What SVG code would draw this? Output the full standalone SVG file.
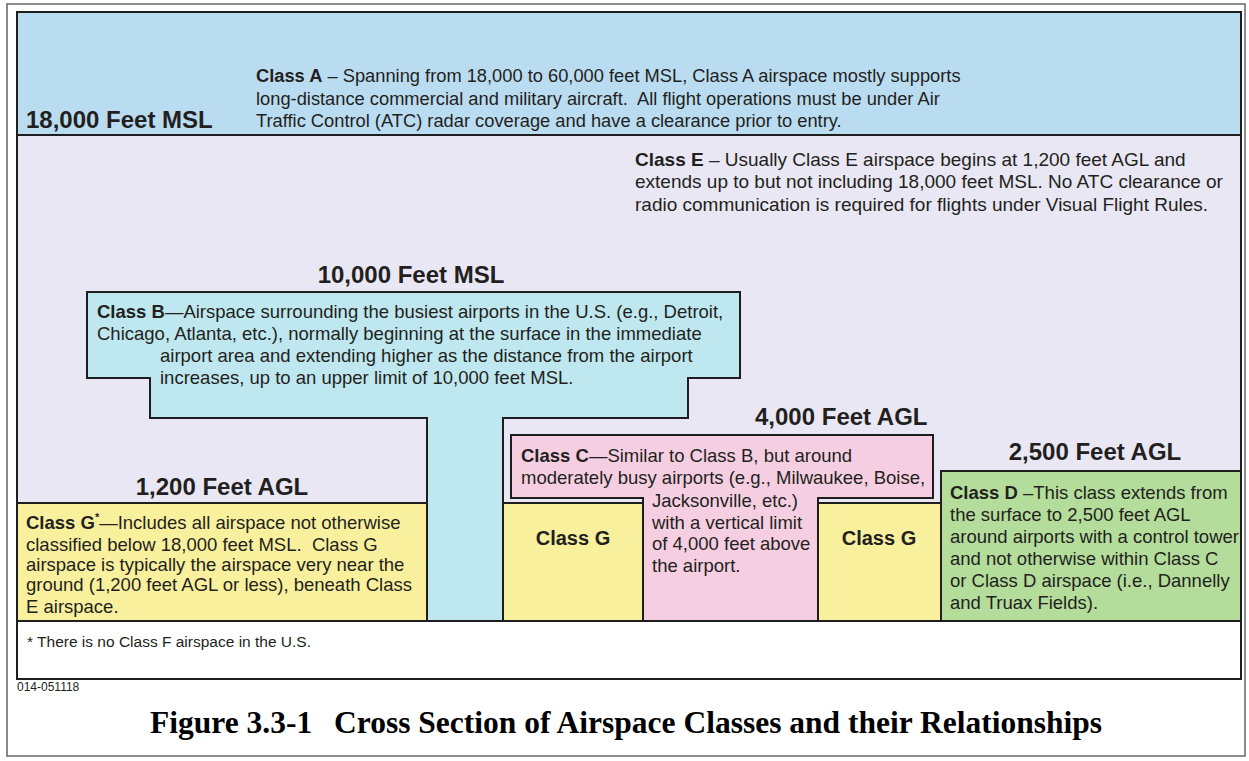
<svg xmlns="http://www.w3.org/2000/svg" width="1249" height="761" viewBox="0 0 1249 761">
<style>
.t{font-family:"Liberation Sans",Arial,sans-serif;font-size:18.5px;fill:#231f20}
.b{font-weight:bold}
.h{font-family:"Liberation Sans",Arial,sans-serif;font-size:24px;font-weight:bold;fill:#231f20}
.g{font-family:"Liberation Sans",Arial,sans-serif;font-size:20px;font-weight:bold;fill:#231f20;text-anchor:middle}
.ln{stroke:#1e1e1e;stroke-width:2}
.cap{font-family:"Liberation Serif","Times New Roman",serif;font-size:31.5px;font-weight:bold;fill:#000}
</style>
<rect x="7" y="4" width="1238" height="752" fill="#ffffff" stroke="#666" stroke-width="1.5"/>
<g id="classA">
<rect x="17" y="12" width="1224" height="123" fill="#badcf1"/>
<text class="h" x="26" y="128">18,000 Feet MSL</text>
<text class="t" style="font-size:18.3px"><tspan x="256" y="82"><tspan class="b">Class A</tspan> – Spanning from 18,000 to 60,000 feet MSL, Class A airspace mostly supports</tspan><tspan x="256" y="104.5">long-distance commercial and military aircraft.&#160; All flight operations must be under Air</tspan><tspan x="256" y="127">Traffic Control (ATC) radar coverage and have a clearance prior to entry.</tspan></text>
</g>
<g id="classE">
<rect x="17" y="135" width="1224" height="486" fill="#e8e7f3" class="ln"/>
<text class="t" style="font-size:19px"><tspan x="635" y="166"><tspan class="b">Class E</tspan> – Usually Class E airspace begins at 1,200 feet AGL and</tspan><tspan x="635" y="188">extends up to but not including 18,000 feet MSL. No ATC clearance or</tspan><tspan x="635" y="211">radio communication is required for flights under Visual Flight Rules.</tspan></text>
</g>
<g id="classB">
<polygon points="87,292 740,292 740,378 688,378 688,418 503,418 503,621 427,621 427,418 150,418 150,378 87,378" fill="#bfe7ef" class="ln"/>
<text class="h" x="411" y="283" text-anchor="middle">10,000 Feet MSL</text>
<text class="t"><tspan x="97" y="318"><tspan class="b">Class B</tspan>—Airspace surrounding the busiest airports in the U.S. (e.g., Detroit,</tspan><tspan x="97" y="340">Chicago, Atlanta, etc.), normally beginning at the surface in the immediate</tspan><tspan x="160" y="362">airport area and extending higher as the distance from the airport</tspan><tspan x="160" y="384">increases, up to an upper limit of 10,000 feet MSL.</tspan></text>
</g>
<g id="classG-left">
<rect x="17" y="503" width="410" height="118" fill="#f9f09d" class="ln"/>
<text class="h" x="222" y="495" text-anchor="middle">1,200 Feet AGL</text>
<text class="t"><tspan x="26" y="529"><tspan class="b">Class G</tspan><tspan class="b" dy="-8" style="font-size:11px">*</tspan><tspan dy="8">—Includes all airspace not otherwise</tspan></tspan><tspan x="26" y="551">classified below 18,000 feet MSL.&#160; Class G</tspan><tspan x="26" y="571">airspace is typically the airspace very near the</tspan><tspan x="26" y="591">ground (1,200 feet AGL or less), beneath Class</tspan><tspan x="26" y="613">E airspace.</tspan></text>
</g>
<g id="classC">
<polygon points="511,435 933,435 933,498 818,498 818,621 643,621 643,498 511,498" fill="#f5cfe1" class="ln"/>
<text class="h" x="755" y="425">4,000 Feet AGL</text>
<text class="t"><tspan x="521" y="462"><tspan class="b">Class C</tspan>—Similar to Class B, but around</tspan><tspan x="521" y="484">moderately busy airports (e.g., Milwaukee, Boise,</tspan><tspan x="652" y="507">Jacksonville, etc.)</tspan><tspan x="652" y="529">with a vertical limit</tspan><tspan x="652" y="550">of 4,000 feet above</tspan><tspan x="652" y="572">the airport.</tspan></text>
</g>
<g id="classG-mid-left">
<rect x="503" y="503" width="140" height="118" fill="#f9f09d" class="ln"/>
<text class="g" x="573" y="545">Class G</text>
</g>
<g id="classG-mid-right">
<rect x="818" y="503" width="123" height="118" fill="#f9f09d" class="ln"/>
<text class="g" x="879" y="545">Class G</text>
</g>
<g id="classD">
<rect x="941" y="471" width="300" height="150" fill="#b4dc9b" class="ln"/>
<text class="h" x="1095" y="460" text-anchor="middle">2,500 Feet AGL</text>
<text class="t"><tspan x="950" y="499"><tspan class="b">Class D</tspan> –This class extends from</tspan><tspan x="950" y="521">the surface to 2,500 feet AGL</tspan><tspan x="950" y="543">around airports with a control tower</tspan><tspan x="950" y="565">and not otherwise within Class C</tspan><tspan x="950" y="587">or Class D airspace (i.e., Dannelly</tspan><tspan x="950" y="609">and Truax Fields).</tspan></text>
</g>
<g id="footnote">
<text class="t" x="27" y="647" style="font-size:15.5px">* There is no Class F airspace in the U.S.</text>
</g>
<rect x="17" y="12" width="1224" height="667" fill="none" class="ln"/>
<g id="caption">
<text class="t" x="17" y="691" style="font-size:12px">014-051118</text>
<text class="cap" y="733"><tspan x="150">Figure 3.3-1</tspan><tspan x="334">Cross Section of Airspace Classes and their Relationships</tspan></text>
</g>
</svg>
